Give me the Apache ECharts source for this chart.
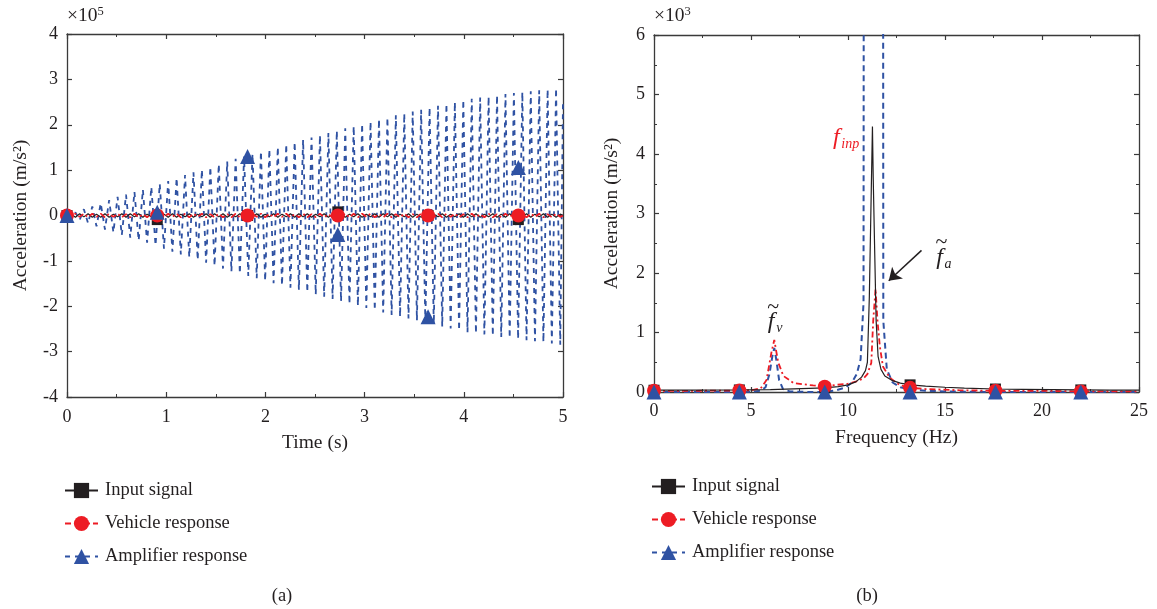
<!DOCTYPE html>
<html><head><meta charset="utf-8">
<script src="https://cdn.jsdelivr.net/npm/echarts@6/dist/echarts.min.js"></script>
<style>html,body{margin:0;padding:0;background:#fff}#c{width:1157px;height:609px}</style>
</head><body><div id="c"></div>
<script>
// ---------- Panel (a): time domain (values in units of 1e5 m/s^2) ----------
const timeA = [
  0, 0.0425, 0.085, 0.1275, 0.17, 0.2125, 0.255, 0.2975, 0.34, 0.3825,
  0.425, 0.4675, 0.51, 0.5525, 0.595, 0.6375, 0.68, 0.7225, 0.765, 0.8075,
  0.85, 0.8925, 0.935, 0.9775, 1.02, 1.0625, 1.105, 1.1475, 1.19, 1.2325,
  1.275, 1.3175, 1.36, 1.4025, 1.445, 1.4875, 1.53, 1.5725, 1.615, 1.6575,
  1.7, 1.7425, 1.785, 1.8275, 1.87, 1.9125, 1.955, 1.9975, 2.04, 2.0825,
  2.125, 2.1675, 2.21, 2.2525, 2.295, 2.3375, 2.38, 2.4225, 2.465, 2.5075,
  2.55, 2.5925, 2.635, 2.6775, 2.72, 2.7625, 2.805, 2.8475, 2.89, 2.9325,
  2.975, 3.0175, 3.06, 3.1025, 3.145, 3.1875, 3.23, 3.2725, 3.315, 3.3575,
  3.4, 3.4425, 3.485, 3.5275, 3.57, 3.6125, 3.655, 3.6975, 3.74, 3.7825,
  3.825, 3.8675, 3.91, 3.9525, 3.995, 4.0375, 4.08, 4.1225, 4.165, 4.2075,
  4.25, 4.2925, 4.335, 4.3775, 4.42, 4.4625, 4.505, 4.5475, 4.59, 4.6325,
  4.675, 4.7175, 4.76, 4.8025, 4.845, 4.8875, 4.93, 4.9725, 5.0
];
const amplifierA = [
  0, -0.03, 0.07, -0.10, 0.14, -0.17, 0.20, -0.24, 0.27, -0.31,
  0.34, -0.37, 0.41, -0.43, 0.46, -0.49, 0.52, -0.55, 0.57, -0.60,
  0.63, -0.66, 0.70, -0.73, 0.76, -0.80, 0.83, -0.86, 0.89, -0.92,
  0.95, -0.98, 1.01, -1.04, 1.07, -1.11, 1.13, -1.17, 1.19, -1.23,
  1.25, -1.28, 1.30, -1.33, 1.36, -1.38, 1.41, -1.44, 1.46, -1.49,
  1.51, -1.54, 1.57, -1.59, 1.62, -1.64, 1.67, -1.69, 1.72, -1.74,
  1.77, -1.79, 1.82, -1.84, 1.87, -1.89, 1.92, -1.95, 1.97, -1.99,
  2.02, -2.04, 2.07, -2.09, 2.12, -2.14, 2.16, -2.19, 2.21, -2.23,
  2.25, -2.27, 2.29, -2.31, 2.33, -2.36, 2.38, -2.40, 2.42, -2.45,
  2.46, -2.49, 2.50, -2.53, 2.55, -2.57, 2.57, -2.60, 2.60, -2.62,
  2.62, -2.65, 2.65, -2.68, 2.68, -2.70, 2.70, -2.72, 2.72, -2.75,
  2.74, -2.77, 2.76, -2.79, 2.78, -2.82, 2.80, -2.85, 2.55
];
const inputA = [
  0, 0.03, -0.04, 0.04, -0.03, 0.04, -0.04, 0.03, -0.04, 0.04,
  -0.04, 0.03, -0.03, 0.04, -0.04, 0.04, -0.03, 0.04, -0.04, 0.03,
  -0.03, 0.04, -0.04, 0.03, -0.04, 0.04, -0.04, 0.03, -0.03, 0.04,
  -0.04, 0.03, -0.03, 0.04, -0.04, 0.04, -0.03, 0.04, -0.04, 0.03,
  -0.03, 0.04, -0.04, 0.03, -0.04, 0.04, -0.04, 0.03, -0.03, 0.04,
  -0.04, 0.03, -0.03, 0.04, -0.04, 0.04, -0.03, 0.04, -0.04, 0.03,
  -0.03, 0.04, -0.04, 0.03, -0.04, 0.04, -0.04, 0.03, -0.03, 0.04,
  -0.04, 0.03, -0.03, 0.04, -0.04, 0.04, -0.03, 0.04, -0.04, 0.03,
  -0.03, 0.04, -0.04, 0.03, -0.04, 0.04, -0.04, 0.03, -0.03, 0.04,
  -0.04, 0.03, -0.03, 0.04, -0.04, 0.04, -0.03, 0.04, -0.04, 0.03,
  -0.03, 0.04, -0.04, 0.03, -0.04, 0.04, -0.04, 0.03, -0.03, 0.04,
  -0.04, 0.03, -0.03, 0.04, -0.04, 0.03, -0.04, 0.03, 0
];
const vehicleA = [
  0, -0.04, 0.04, -0.03, 0.04, -0.04, 0.04, -0.03, 0.04, -0.04,
  0.04, -0.03, 0.04, -0.04, 0.03, -0.04, 0.04, -0.04, 0.03, -0.04,
  0.04, -0.04, 0.03, -0.04, 0.04, -0.03, 0.04, -0.04, 0.04, -0.04,
  0.04, -0.03, 0.04, -0.04, 0.03, -0.04, 0.04, -0.04, 0.03, -0.04,
  0.04, -0.04, 0.03, -0.04, 0.04, -0.03, 0.04, -0.04, 0.04, -0.04,
  0.04, -0.03, 0.04, -0.04, 0.03, -0.04, 0.04, -0.04, 0.03, -0.04,
  0.04, -0.04, 0.03, -0.04, 0.04, -0.03, 0.04, -0.04, 0.04, -0.04,
  0.04, -0.03, 0.04, -0.04, 0.03, -0.04, 0.04, -0.04, 0.03, -0.04,
  0.04, -0.04, 0.03, -0.04, 0.04, -0.03, 0.04, -0.04, 0.04, -0.04,
  0.04, -0.03, 0.04, -0.04, 0.03, -0.04, 0.04, -0.04, 0.03, -0.04,
  0.04, -0.04, 0.03, -0.04, 0.04, -0.03, 0.04, -0.04, 0.04, -0.04,
  0.04, -0.03, 0.04, -0.04, 0.03, -0.04, 0.04, -0.03, 0
];
const markTimeA = [0, 0.91, 1.82, 2.73, 3.64, 4.55];
const markInputA = [0, -0.09, 0, 0.08, 0, -0.09];
const markVehicleA = [0, 0, 0, 0, 0, 0];
const markAmplifierA = [0, 0.07, 1.30, -0.42, -2.23, 1.06];

// ---------- Panel (b): spectrum (values in units of 1e3 m/s^2) ----------
const freqInput = [0, 2, 4.4, 6, 8.8, 9.5, 10, 10.4, 10.7, 10.9, 11.0, 11.1, 11.2, 11.26, 11.3, 11.38, 11.45, 11.55, 11.7, 11.9, 12.3, 12.7, 13.2, 14, 15, 16, 17.6, 19, 20.5, 22, 23.5, 25];
const valInput  = [0.03, 0.03, 0.035, 0.04, 0.07, 0.09, 0.12, 0.17, 0.25, 0.36, 0.5, 1.6, 3.4, 4.46, 3.6, 2.3, 1.2, 0.6, 0.38, 0.27, 0.19, 0.15, 0.12, 0.10, 0.08, 0.065, 0.05, 0.045, 0.04, 0.035, 0.03, 0.03];
const freqVehicle = [0, 2, 4.4, 5, 5.5, 5.8, 6.05, 6.2, 6.4, 6.67, 7.2, 8.2, 8.8, 9.4, 10, 10.45, 10.8, 11, 11.2, 11.3, 11.42, 11.52, 11.64, 11.8, 12.15, 12.65, 13.2, 14, 15.7, 17.6, 20, 22, 25];
const valVehicle  = [0.02, 0.02, 0.025, 0.03, 0.06, 0.2, 0.66, 0.875, 0.5, 0.27, 0.15, 0.11, 0.09, 0.12, 0.14, 0.18, 0.23, 0.3, 0.49, 1.2, 1.73, 1.2, 0.77, 0.43, 0.24, 0.12, 0.07, 0.05, 0.03, 0.02, 0.02, 0.01, 0.01];
const freqAmplifier = [0, 2, 4.4, 5, 5.5, 5.75, 5.95, 6.1, 6.2, 6.3, 6.45, 6.65, 7, 8, 8.8, 9.4, 9.9, 10.2, 10.45, 10.65, 10.8, 10.88, 10.95, 11.3, 11.7, 11.76, 11.82, 12, 12.3, 12.7, 13.2, 14, 15, 17.6, 20, 22, 25];
const valAmplifier  = [0, 0, 0, 0.005, 0.02, 0.08, 0.3, 0.6, 0.74, 0.55, 0.2, 0.05, 0.01, 0, 0, 0.03, 0.08, 0.16, 0.3, 0.55, 1.5, 40, 60, 30, 60, 40, 1.2, 0.38, 0.16, 0.08, 0.04, 0.02, 0.01, 0, 0, 0, 0];
const markFreqB = [0, 4.4, 8.8, 13.2, 17.6, 22];
const markInputB = [0.03, 0.035, 0.07, 0.12, 0.05, 0.035];
const markVehicleB = [0.02, 0.025, 0.09, 0.07, 0.02, 0.01];
const markAmplifierB = [0, 0, 0, 0, 0, 0];

const seriesNames = ['Input signal', 'Vehicle response', 'Amplifier response'];

// ---------- styling ----------
const FONT = '"Liberation Serif", "DejaVu Serif", serif';
const C_TXT = '#231f20', C_BLACK = '#231f20', C_RED = '#ed1c24', C_BLUE = '#2f52a3', C_AX = '#3a3a3a';
const zip = (xs, ys) => xs.map((x, i) => [x, ys[i]]);

function axis(extra) {
  return Object.assign({
    type: 'value',
    axisLine: { show: true, onZero: false, lineStyle: { color: C_AX, width: 1.3 } },
    axisTick: { show: true, inside: true, length: 5, lineStyle: { color: C_AX, width: 1.2 } },
    minorTick: { show: false },
    splitLine: { show: false },
    axisLabel: { fontFamily: FONT, fontSize: 18, color: C_TXT, margin: 9 },
    nameTextStyle: { fontFamily: FONT, fontSize: 19.5, color: C_TXT },
    nameLocation: 'middle'
  }, extra);
}
const minor = (n) => ({ show: true, splitNumber: n, length: 3, lineStyle: { color: C_AX, width: 1 } });

const lineStyles = {
  'Input signal': { color: C_BLACK, width: 1.2, type: 'solid' },
  'Vehicle response': { color: C_RED, width: 1.8, type: [6, 3, 2, 3] },
  'Amplifier response': { color: C_BLUE, width: 2, type: [6, 4] }
};
const symbols = { 'Input signal': ['rect', 11, C_BLACK], 'Vehicle response': ['circle', 14, C_RED], 'Amplifier response': ['triangle', 15, C_BLUE] };

function lineSeries(name, xi, data, z, extraStyle) {
  return {
    name, type: 'line', xAxisIndex: xi, yAxisIndex: xi, data,
    symbol: symbols[name][0], symbolSize: symbols[name][1], showSymbol: false,
    itemStyle: { color: symbols[name][2] }, lineStyle: Object.assign({}, lineStyles[name], extraStyle || {}),
    silent: true, z, clip: true, emphasis: { disabled: true }
  };
}
function markSeries(name, xi, data, z) {
  return {
    name: name + ' markers ' + xi, type: 'scatter', xAxisIndex: xi, yAxisIndex: xi, data,
    symbol: symbols[name][0], symbolSize: symbols[name][1],
    itemStyle: { color: symbols[name][2], opacity: 1 }, silent: true, z, clip: false
  };
}

const legendBase = {
  data: seriesNames, orient: 'vertical', itemWidth: 33, itemHeight: 19, itemGap: 14,
  selectedMode: false, textStyle: { fontFamily: FONT, fontSize: 18.5, color: C_TXT, padding: [0, 0, 0, 2] }
};

const option = {
  animation: false,
  backgroundColor: '#fff',
  grid: [
    { left: 67, top: 34, width: 496, height: 363 },
    { left: 654, top: 35, width: 485, height: 357 }
  ],
  xAxis: [
    axis({ gridIndex: 0, min: 0, max: 5, interval: 1, position: 'bottom', minorTick: minor(2), name: 'Time (s)', nameGap: 36, axisLabel: { fontFamily: FONT, fontSize: 18, color: C_TXT, margin: 11 } }),
    axis({ gridIndex: 0, min: 0, max: 5, interval: 1, position: 'top', minorTick: minor(2), axisLabel: { show: false } }),
    axis({ gridIndex: 1, min: 0, max: 25, interval: 5, position: 'bottom', minorTick: minor(2), name: 'Frequency (Hz)', nameGap: 36, axisLabel: { fontFamily: FONT, fontSize: 18, color: C_TXT, margin: 10 } }),
    axis({ gridIndex: 1, min: 0, max: 25, interval: 5, position: 'top', minorTick: minor(2), axisLabel: { show: false } })
  ],
  yAxis: [
    axis({ gridIndex: 0, min: -4, max: 4, interval: 1, position: 'left', name: 'Acceleration (m/s²)', nameGap: 36, nameRotate: 90 }),
    axis({ gridIndex: 0, min: -4, max: 4, interval: 1, position: 'right', axisLabel: { show: false } }),
    axis({ gridIndex: 1, min: 0, max: 6, interval: 1, position: 'left', minorTick: minor(2), name: 'Acceleration (m/s²)', nameGap: 32, nameRotate: 90 }),
    axis({ gridIndex: 1, min: 0, max: 6, interval: 1, position: 'right', minorTick: minor(2), axisLabel: { show: false } })
  ],
  legend: [
    Object.assign({ left: 59, top: 476 }, legendBase),
    Object.assign({ left: 646, top: 472 }, legendBase)
  ],
  series: [
    lineSeries('Input signal', 0, zip(timeA, inputA), 3),
    lineSeries('Vehicle response', 0, zip(timeA, vehicleA), 4),
    lineSeries('Amplifier response', 0, zip(timeA, amplifierA), 2, { width: 1.8, type: [5, 5] }),
    markSeries('Input signal', 0, zip(markTimeA, markInputA), 5),
    markSeries('Vehicle response', 0, zip(markTimeA, markVehicleA), 6),
    markSeries('Amplifier response', 0, zip(markTimeA, markAmplifierA), 7),

    Object.assign(lineSeries('Input signal', 2, zip(freqInput, valInput), 4), {
      markLine: {
        silent: true, animation: false, symbol: ['none', 'arrow'], symbolSize: 12,
        label: { show: false }, lineStyle: { color: C_BLACK, width: 1.5, type: 'solid' },
        data: [[{ coord: [13.79, 2.38] }, { coord: [12.10, 1.87] }]]
      }
    }),
    lineSeries('Vehicle response', 2, zip(freqVehicle, valVehicle), 3),
    lineSeries('Amplifier response', 2, zip(freqAmplifier, valAmplifier), 2),
    markSeries('Input signal', 2, zip(markFreqB, markInputB), 5),
    markSeries('Vehicle response', 2, zip(markFreqB, markVehicleB), 6),
    markSeries('Amplifier response', 2, zip(markFreqB, markAmplifierB), 7)
  ]
};

const chart = echarts.init(document.getElementById('c'), null, { renderer: 'canvas' });
chart.setOption(option);

// ---------- text annotations (anchored in data coordinates of panel b) ----------
const annFinp = [9.4, 4.27];
const annFv = [6.04, 1.18];
const annFa = [14.72, 2.26];
const toPx = (p) => chart.convertToPixel({ seriesIndex: 6 }, p);
const it = (size) => 'italic ' + size + 'px ' + FONT;
const txt = (x, y, text, font, fill, align, va) => ({ type: 'text', x, y, silent: true, z: 100, style: { text, font, fill, align: align || 'left', verticalAlign: va || 'middle' } });

const pI = toPx(annFinp), pV = toPx(annFv), pA = toPx(annFa);
const supRich = { s: { fontFamily: FONT, fontSize: 12.5, color: C_TXT, verticalAlign: 'top', padding: [0, 0, 8, 0] }, m: { fontFamily: FONT, fontSize: 19.5, color: C_TXT } };
chart.setOption({
  graphic: [
    { type: 'text', x: 67, y: 5, silent: true, style: { text: '{m|×10}{s|5}', rich: supRich, fill: C_TXT } },
    { type: 'text', x: 654, y: 5, silent: true, style: { text: '{m|×10}{s|3}', rich: supRich, fill: C_TXT } },
    txt(282, 596, '(a)', '18.5px ' + FONT, C_TXT, 'center'),
    txt(867, 596, '(b)', '18.5px ' + FONT, C_TXT, 'center'),
    txt(pI[0], pI[1], 'f', it(24), C_RED, 'center'),
    txt(pI[0] + 5, pI[1] + 6, 'inp', it(14), C_RED, 'left'),
    txt(pV[0], pV[1], 'f', it(24), C_TXT, 'center'),
    txt(pV[0] + 2, pV[1] - 15, '~', '22px ' + FONT, C_TXT, 'center'),
    txt(pV[0] + 5, pV[1] + 7, 'v', it(14), C_TXT, 'left'),
    txt(pA[0], pA[1], 'f', it(24), C_TXT, 'center'),
    txt(pA[0] + 2, pA[1] - 15, '~', '22px ' + FONT, C_TXT, 'center'),
    txt(pA[0] + 5, pA[1] + 7, 'a', it(14), C_TXT, 'left')
  ]
});
</script>
</body></html>
